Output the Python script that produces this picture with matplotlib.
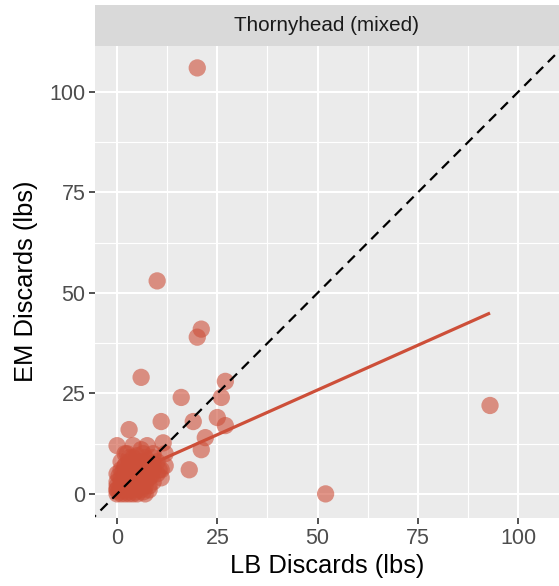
import matplotlib
matplotlib.use('Agg')
import matplotlib.pyplot as plt

plt.rcParams['font.family'] = ['Liberation Sans', 'DejaVu Sans']

# logbook (LB) vs electronic monitoring (EM) discards, lbs
lbDiscards = [20, 10, 20, 21, 6, 27, 16, 26, 25, 19, 11, 27, 3, 22, 21, 18, 0, 52, 93,
              7.5, 11.5, 2, 0, 0, 0, 0, 0, 1, 1, 1, 1, 1, 2, 2, 2, 2, 2, 3, 3, 3, 3, 3,
              4, 4, 4, 4, 4, 5, 5, 5, 5, 6, 6, 6, 6, 7, 7, 7, 7, 8, 8, 8, 9, 9, 9,
              10, 10, 11, 12, 12, 6, 4, 9,
              0, 0.5, 1.5, 2.5, 3.5, 4.5, 5.5, 6.5, 1, 2, 3, 4, 5, 6, 7, 8,
              0.5, 1.5, 2.5, 3.5, 4.5, 5.5, 6.5, 7.5, 8.5, 2, 3, 4, 5, 6, 7, 8,
              1, 3, 5, 7, 9, 10.5, 11, 2.5, 4.5, 6.5]
emDiscards = [106, 53, 39, 41, 29, 28, 24, 24, 19, 18, 18, 17, 16, 14, 11, 6, 12, 0, 22,
              12, 12.7, 10, 0, 1, 2, 3, 5, 0, 1, 2, 4, 6, 0, 1, 3, 5, 7, 0, 2, 4, 6, 8,
              0, 1, 3, 5, 9, 0, 2, 4, 7, 1, 3, 6, 8, 0, 2, 5, 9, 1, 4, 7, 3, 6, 9,
              5, 8, 4, 7, 10, 11, 12, 10,
              1, 0.5, 1.5, 0.5, 1.5, 0.5, 1.5, 0.5, 3, 2, 3, 2, 3, 2, 3, 2,
              4.5, 5.5, 4.5, 5.5, 4.5, 5.5, 4.5, 5.5, 4.5, 7, 7, 7.5, 6, 7.5, 7, 6,
              8, 9, 9.5, 8, 7.5, 6, 6, 10, 8, 10]

# fitted linear trend
fitX = [0, 93]
fitY = [3.6, 45]

xTicks = [0, 25, 50, 75, 100]
yTicks = [0, 25, 50, 75, 100]
xMinor = [12.5, 37.5, 62.5, 87.5]
yMinor = [12.5, 37.5, 62.5, 87.5]

POINT_COLOR = '#CD4F39'
PANEL_BG = '#EBEBEB'
STRIP_BG = '#D9D9D9'

fig = plt.figure(figsize=(5.59, 5.86), dpi=100)
ax = fig.add_axes([95 / 559, 68 / 586, 464 / 559, 473 / 586])
strip = fig.add_axes([95 / 559, 540 / 586, 464 / 559, 41 / 586])

ax.set_facecolor(PANEL_BG)
for v in xMinor:
    ax.axvline(v, color='white', lw=0.8, zorder=0)
for v in yMinor:
    ax.axhline(v, color='white', lw=0.8, zorder=0)
for v in xTicks:
    ax.axvline(v, color='white', lw=1.5, zorder=0)
for v in yTicks:
    ax.axhline(v, color='white', lw=1.5, zorder=0)

ax.scatter(lbDiscards, emDiscards, s=155, color=POINT_COLOR, alpha=0.6,
           edgecolors='none', zorder=2)
ax.plot(fitX, fitY, color=POINT_COLOR, lw=2.3, solid_capstyle='butt', zorder=3)
ax.plot([-10, 130], [-10, 130], color='black', lw=1.6, dashes=(4.5, 3), zorder=4)

ax.set_xlim(-5.5, 110.2)
ax.set_ylim(-6.0, 111.7)
ax.set_xticks(xTicks)
ax.set_yticks(yTicks)
ax.tick_params(length=4, width=1.2, color='#333333', labelcolor='#4D4D4D',
               labelsize=15.5, pad=3)
for s in ax.spines.values():
    s.set_visible(False)

ax.set_xlabel('LB Discards (lbs)', fontsize=18.4, labelpad=4)
ax.set_ylabel('EM Discards (lbs)', fontsize=18.4, labelpad=8)

strip.set_facecolor(STRIP_BG)
strip.set_xticks([])
strip.set_yticks([])
for s in strip.spines.values():
    s.set_visible(False)
strip.text(0.5, 0.5, 'Thornyhead (mixed)', ha='center', va='center',
           fontsize=14.9, color='#1A1A1A', transform=strip.transAxes)

fig.savefig('out.png', dpi=100)
